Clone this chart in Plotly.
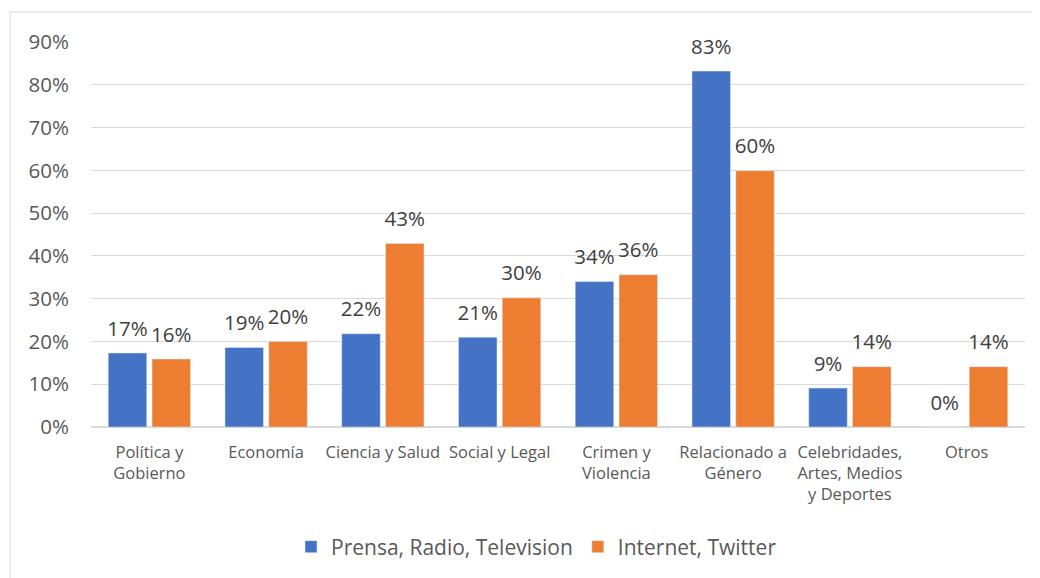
import plotly.graph_objects as go

categories = ["Política y<br>Gobierno", "Economía", "Ciencia y Salud", "Social y Legal",
              "Crimen y<br>Violencia", "Relacionado a<br>Género",
              "Celebridades,<br>Artes, Medios<br>y Deportes", "Otros"]
prensa = [0.173, 0.186, 0.218, 0.210, 0.340, 0.832, 0.091, 0.0]
internet = [0.159, 0.200, 0.429, 0.302, 0.356, 0.599, 0.141, 0.141]
series_names = ["Prensa, Radio, Television", "Internet, Twitter"]
colors = ["#4472C4", "#ED7D31"]
ytick_vals = [0, 0.1, 0.2, 0.3, 0.4, 0.5, 0.6, 0.7, 0.8, 0.9]

FONT = "Open Sans"
fig = go.Figure()
for name, vals, col, grp in zip(series_names, [prensa, internet], colors, ["a", "b"]):
    fig.add_trace(go.Bar(x=categories, y=vals, name=name, marker_color=col,
                         offsetgroup=grp, alignmentgroup="g"))
for name, vals, grp in zip(series_names, [prensa, internet], ["a", "b"]):
    fig.add_trace(go.Scatter(x=categories, y=vals, mode="markers+text",
                             text=[f"{v:.0%}" for v in vals], textposition="top center",
                             textfont=dict(family=FONT, size=20.5, color="#404040"),
                             marker=dict(size=18, opacity=0), showlegend=False,
                             offsetgroup=grp, alignmentgroup="g", hoverinfo="skip",
                             cliponaxis=False))

# page is offset by the 8px body margin
W, H = 1040, 578
L, R, T, B = 83, 23, 34, 159
pw, ph = W - L - R, H - T - B
fig.add_shape(type="rect", xref="paper", yref="paper",
              x0=(2 - L) / pw, x1=1.2, y0=-(H + 10 - (H - B)) / ph, y1=1 + (T - 4) / ph,
              line=dict(color="#D9D9D9", width=1), fillcolor="rgba(0,0,0,0)", layer="below")

fig.update_layout(
    width=W, height=H, margin=dict(l=L, r=R, t=T, b=B),
    paper_bgcolor="white", plot_bgcolor="white",
    barmode="group", bargap=0.25, bargroupgap=0.12,
    scattermode="group", scattergap=0.25,
    font=dict(family=FONT, color="#595959"),
    legend=dict(orientation="h", x=(528.5 - L) / pw, xanchor="center",
                y=-(539 - (H - B)) / ph, yanchor="middle",
                font=dict(size=21, color="#595959"), itemwidth=30, traceorder="normal"),
    xaxis=dict(showgrid=False, showline=False, ticks="", tickfont=dict(size=16.5),
               ticklabelstandoff=13),
    yaxis=dict(range=[0, 0.9], tickvals=ytick_vals, tickformat=".0%",
               gridcolor="#D9D9D9", gridwidth=1, zeroline=True, zerolinecolor="#D9D9D9",
               zerolinewidth=1.5, showline=False, ticks="", tickfont=dict(size=20.5),
               ticklabelstandoff=21),
    showlegend=True,
)
fig.write_html("out.html")
